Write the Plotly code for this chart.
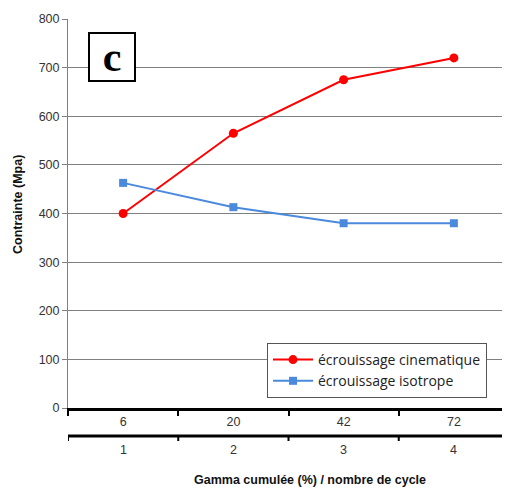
import plotly.graph_objects as go

gamma_labels = ["6", "20", "42", "72"]
cycle_labels = ["1", "2", "3", "4"]
cinematique = [400, 565, 675, 720]
isotrope = [463, 413, 380, 380]
y_ticks = [0, 100, 200, 300, 400, 500, 600, 700, 800]

OFF = 8  # default body margin of the page
W, H = 510 - OFF, 492 - OFF
L, R, T, B = 68 - OFF, 509 - OFF, 19 - OFF, 408 - OFF
ph = B - T
pw = R - L

fig = go.Figure()
fig.add_trace(go.Scatter(
    x=gamma_labels, y=cinematique, mode="lines+markers",
    name="écrouissage cinematique",
    line=dict(color="#FF0000", width=2),
    marker=dict(symbol="circle", size=9, color="#FF0000"),
))
fig.add_trace(go.Scatter(
    x=gamma_labels, y=isotrope, mode="lines+markers",
    name="écrouissage isotrope",
    line=dict(color="#4A89DC", width=2),
    marker=dict(symbol="square", size=8, color="#4A89DC"),
))

def py(px):
    return (B - (px - OFF)) / ph

def px_(x):
    return ((x - OFF) - L) / pw

shapes = []
shapes.append(dict(type="line", xref="x", yref="paper", x0=-0.5, x1=3.5,
                   y0=py(436), y1=py(436), line=dict(color="black", width=3)))
for i in range(len(gamma_labels) + 1):
    xb = i - 0.5
    shapes.append(dict(type="line", xref="x", yref="paper", x0=xb, x1=xb,
                       y0=py(436), y1=py(441), line=dict(color="black", width=2)))

annotations = []
for i, c in enumerate(cycle_labels):
    annotations.append(dict(x=i, y=py(450), xref="x", yref="paper",
                            text=c, showarrow=False, yanchor="middle",
                            font=dict(family="Liberation Sans, Arial", size=12.5, color="#333")))
annotations.append(dict(x=px_(310), y=py(480), xref="paper", yref="paper",
                        text="<b>Gamma cumulée (%) / nombre de cycle</b>", showarrow=False,
                        yanchor="middle",
                        font=dict(family="Liberation Sans, Arial", size=12.5, color="#111")))
annotations.append(dict(x=px_(18), y=py(205), xref="paper", yref="paper",
                        text="<b>Contrainte (Mpa)</b>", showarrow=False, textangle=-90,
                        xanchor="center", yanchor="middle",
                        font=dict(family="Liberation Sans, Arial", size=12.5, color="#111")))
annotations.append(dict(x=px_(111.5), y=py(57), xref="paper", yref="paper",
                        text="<b>c</b>", showarrow=False, width=44, height=46,
                        bgcolor="white", bordercolor="black", borderwidth=2, borderpad=0,
                        xanchor="center", yanchor="middle",
                        font=dict(family="Liberation Serif, Times New Roman", size=42, color="black")))

fig.update_layout(
    width=W, height=H,
    margin=dict(l=L, r=W - R, t=T, b=H - B, pad=0),
    paper_bgcolor="white", plot_bgcolor="white",
    showlegend=True,
    legend=dict(x=px_(267), y=py(398), xanchor="left", yanchor="bottom",
                bgcolor="white", bordercolor="#555", borderwidth=1,
                font=dict(family="Open Sans, Liberation Sans", size=14, color="#222"),
                itemwidth=40, tracegroupgap=0),
    xaxis=dict(type="category", categoryorder="array", categoryarray=gamma_labels,
               range=[-0.5, 3.5], showgrid=False, zeroline=False,
               showline=True, linecolor="black", linewidth=3,
               ticks="outside", tickson="boundaries", ticklen=5, tickwidth=2,
               tickcolor="black",
               tickfont=dict(family="Liberation Sans, Arial", size=12.5, color="#333")),
    yaxis=dict(range=[0, 800], tickvals=y_ticks, showgrid=True, gridcolor="#808080",
               gridwidth=1, zeroline=False, showline=True, linecolor="#808080",
               linewidth=1, mirror=True, ticks="outside", ticklen=5, tickcolor="#808080",
               tickfont=dict(family="Liberation Sans, Arial", size=12.5, color="#333")),
    shapes=shapes,
    annotations=annotations,
)

fig.write_html("out.html")
